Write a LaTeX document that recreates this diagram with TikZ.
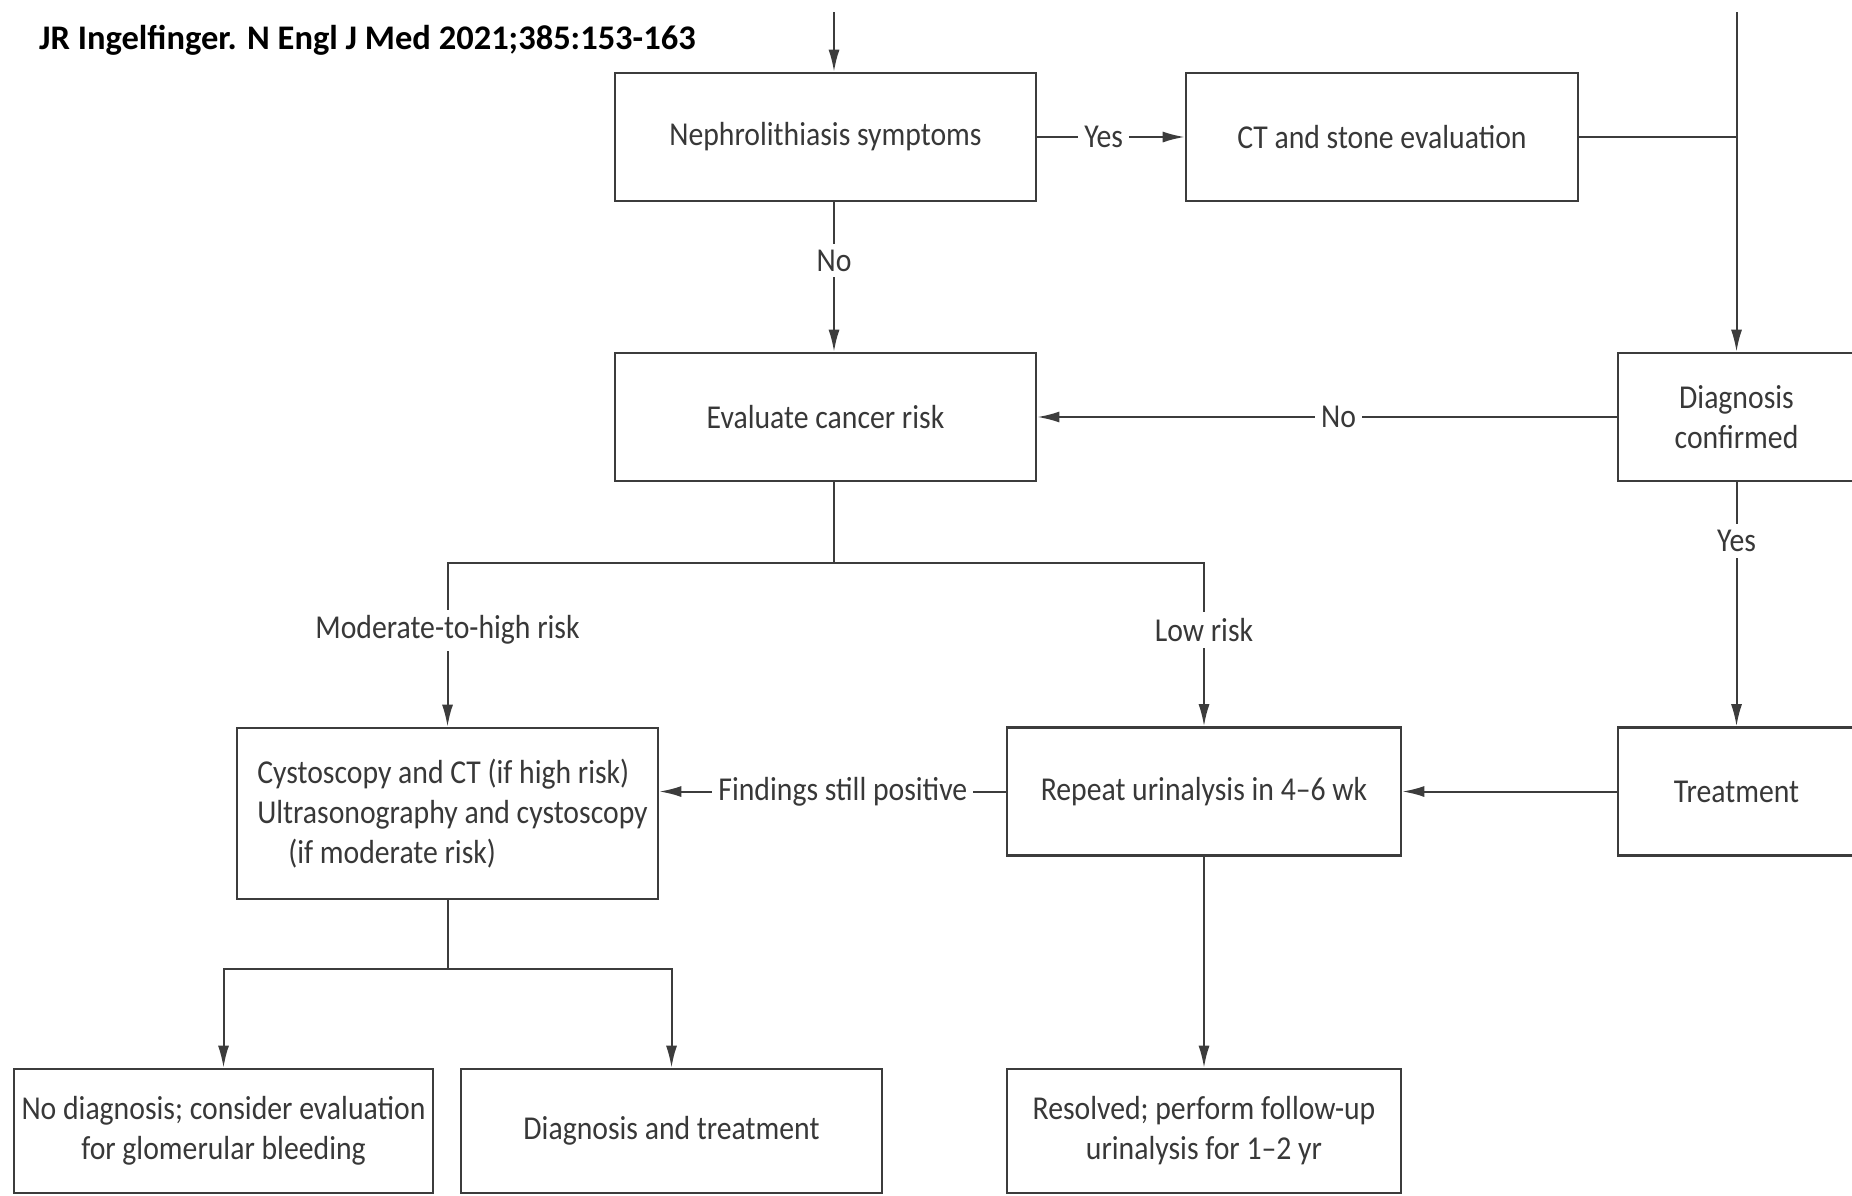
\documentclass[tikz,border=0pt]{standalone}
\usepackage{fontspec}
\setmainfont{Carlito}[FakeStretch=0.89]
\newfontfamily\citefont{Carlito}
\usetikzlibrary{calc, arrows.meta, positioning}
\definecolor{inkgrey}{HTML}{383838}
\definecolor{linegrey}{HTML}{3C3C3C}

\begin{document}
\begin{tikzpicture}[x=1pt, y=-1pt,
	box/.style={draw=linegrey, line width=2.6pt, text=inkgrey, minimum height=128pt, align=center, inner sep=0pt, font=\fontsize{33.4}{40}\selectfont},
	lbl/.style={text=inkgrey, fill=white, inner sep=6pt, font=\fontsize{33.4}{40}\selectfont},
	wire/.style={draw=linegrey, line width=2pt},
	arr/.style={wire, -{Latex[length=22pt, width=11pt]}}]
	\useasboundingbox (0,0) rectangle (1852,1195);
	\clip (0,0) rectangle (1852,1195);
	\node[anchor=west, inner sep=0pt, font=\citefont\bfseries\fontsize{34.5}{40}\selectfont] (cite) at (39,40) {JR Ingelfinger. N Engl J Med 2021;385:153-163};

	\node[box, minimum width=421pt] (nephro) at (825.5,137) {Nephrolithiasis symptoms};
	\node[box, minimum width=392pt] (ct) at (1382,137) {CT and stone evaluation};
	\node[box, minimum width=421pt] (evalrisk) at (825.5,417) {Evaluate cancer risk};
	\node[box, minimum width=237pt] (diag) at (1736.5,417) {Diagnosis\\confirmed};
	\node[box, minimum width=421pt, minimum height=171pt, align=left] (cysto) at (447.5,813.5) {\hspace*{10pt}Cystoscopy and CT (if high risk)\\\hspace*{10pt}Ultrasonography and cystoscopy\\\hspace*{41pt}(if moderate risk)};
	\node[box, minimum width=394pt] (repeat) at (1204,791.5) {Repeat urinalysis in 4--6 wk};
	\node[box, minimum width=237pt] (treat) at (1736.5,791.5) {Treatment};
	\node[box, minimum width=419pt, minimum height=124pt] (nodiag) at (223.5,1131) {No diagnosis; consider evaluation\\for glomerular bleeding};
	\node[box, minimum width=421pt, minimum height=124pt] (diagtreat) at (671.5,1131) {Diagnosis and treatment};
	\node[box, minimum width=394pt, minimum height=124pt] (resolved) at (1204,1131) {Resolved; perform follow-up\\urinalysis for 1--2 yr};

	\coordinate (top1) at (834,12);
	\coordinate (top2) at (1736.5,12);
	\coordinate (split1) at (834,563);
	\coordinate (split2) at (447.5,969);

	\draw[arr] (top1) -- (top1 |- nephro.north);
	\draw[arr] (nephro.east) -- node[lbl, pos=0.45] {Yes} (ct.west);
	\draw[arr] (nephro.south -| top1) -- node[lbl, pos=0.39] {No} (evalrisk.north -| top1);
	\draw[arr] (top2) -- (diag.north);
	\draw[wire] (ct.east) -- (ct.east -| top2);
	\draw[arr] (diag.west) -- node[lbl, pos=0.48] {No} (evalrisk.east);
	\draw[arr] (diag.south) -- node[lbl, pos=0.24] {Yes} (treat.north);
	\draw[arr] (treat.west) -- (repeat.east);
	\draw[arr] (repeat.west) -- node[lbl, pos=0.47] {Findings still positive} (repeat.west -| cysto.east);

	\draw[wire] (evalrisk.south -| top1) -- (split1);
	\draw[arr] (split1) -| node[lbl, pos=0.705] {Moderate-to-high risk} (cysto.north);
	\draw[arr] (split1) -| node[lbl, pos=0.705] {Low risk} (repeat.north);

	\draw[wire] (cysto.south) -- (split2);
	\draw[arr] (split2) -| (nodiag.north);
	\draw[arr] (split2) -| (diagtreat.north);
	\draw[arr] (repeat.south) -- (resolved.north);
\end{tikzpicture}
\end{document}
